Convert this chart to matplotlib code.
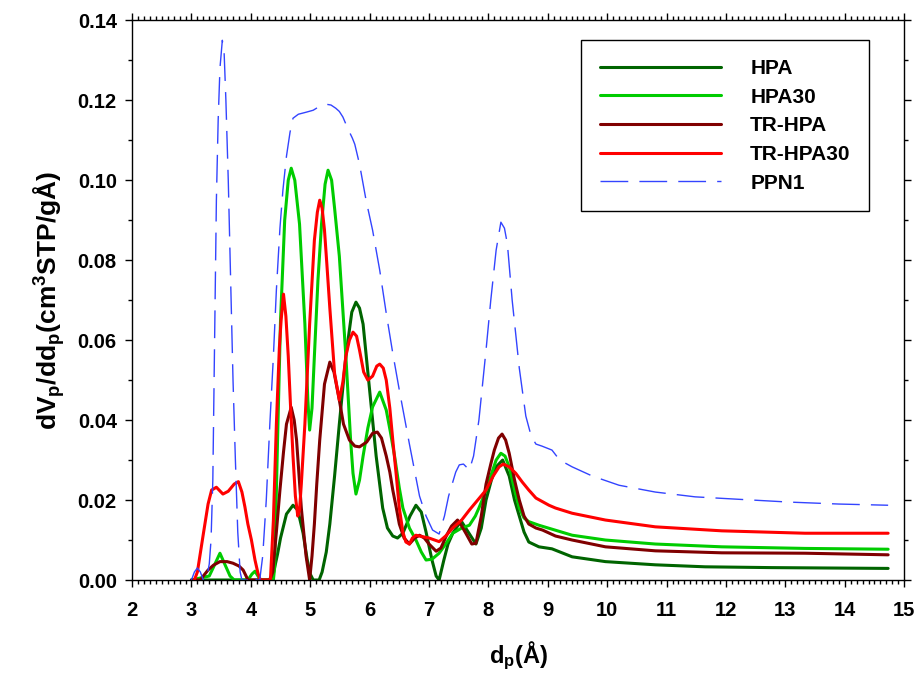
import matplotlib
matplotlib.use('Agg')
import matplotlib.pyplot as plt
from matplotlib.ticker import MultipleLocator, FormatStrFormatter

plt.rcParams['font.family'] = ['Liberation Sans', 'DejaVu Sans']
plt.rcParams['font.weight'] = 'bold'
plt.rcParams['mathtext.fontset'] = 'custom'
plt.rcParams['mathtext.rm'] = 'Liberation Sans:bold'
plt.rcParams['mathtext.bf'] = 'Liberation Sans:bold'
plt.rcParams['mathtext.it'] = 'Liberation Sans:bold'
plt.rcParams['mathtext.default'] = 'bf'

# pore size distribution data
hpa_x = [3.0, 4.3, 4.37, 4.45, 4.5, 4.6, 4.71, 4.79, 4.88, 4.95, 5.0, 5.05, 5.15, 5.2, 5.27,
         5.33, 5.41, 5.49, 5.6, 5.7, 5.77, 5.83, 5.89, 6.0, 6.11, 6.22, 6.3, 6.39, 6.47, 6.56,
         6.68, 6.78, 6.87, 6.95, 7.05, 7.12, 7.17, 7.25, 7.32, 7.4, 7.54, 7.66, 7.79, 7.88,
         7.96, 8.05, 8.13, 8.24, 8.35, 8.44, 8.52, 8.6, 8.68, 8.85, 9.07, 9.41, 9.97, 10.81,
         11.65, 12.77, 14.73]
hpa_y = [0, 0, 0.001, 0.0065, 0.0105, 0.0165, 0.0187, 0.0175, 0.0117, 0.005, 0.0015, 0, 0,
         0.002, 0.007, 0.014, 0.026, 0.039, 0.056, 0.067, 0.0695, 0.068, 0.064, 0.0475, 0.031,
         0.018, 0.013, 0.011, 0.0105, 0.0117, 0.016, 0.0187, 0.017, 0.012, 0.005, 0.001, 0,
         0.005, 0.009, 0.0117, 0.0148, 0.012, 0.009, 0.013, 0.02, 0.025, 0.0283, 0.030, 0.026,
         0.020, 0.016, 0.012, 0.0095, 0.0083, 0.0078, 0.0058, 0.0046, 0.0038, 0.0033, 0.0031,
         0.0029]

hpa30_x = [3.0, 3.3, 3.38, 3.48, 3.56, 3.65, 3.72, 3.95, 4.02, 4.07, 4.12, 4.16, 4.38, 4.4,
           4.45, 4.5, 4.57, 4.63, 4.68, 4.74, 4.82, 4.91, 4.96, 4.99, 5.03, 5.07, 5.13, 5.19,
           5.25, 5.3, 5.36, 5.41, 5.49, 5.6, 5.68, 5.72, 5.77, 5.83, 5.89, 5.97, 6.05, 6.17,
           6.28, 6.35, 6.42, 6.5, 6.56, 6.67, 6.78, 6.87, 6.95, 7.05, 7.17, 7.28, 7.4, 7.55,
           7.68, 7.78, 7.84, 7.95, 8.04, 8.13, 8.21, 8.28, 8.35, 8.45, 8.52, 8.6, 8.68, 8.85,
           9.41, 9.97, 10.81, 11.93, 13.33, 14.73]
hpa30_y = [0, 0.001, 0.0035, 0.0067, 0.004, 0.001, 0, 0, 0.0015, 0.0022, 0.001, 0, 0, 0.003,
           0.035, 0.065, 0.09, 0.1, 0.103, 0.1, 0.089, 0.064, 0.045, 0.0375, 0.043, 0.056, 0.075,
           0.089, 0.099, 0.1025, 0.1, 0.093, 0.081, 0.056, 0.035, 0.0267, 0.0215, 0.025, 0.031,
           0.038, 0.0433, 0.047, 0.0425, 0.037, 0.031, 0.023, 0.018, 0.013, 0.01, 0.007, 0.005,
           0.0052, 0.0067, 0.009, 0.0117, 0.013, 0.0137, 0.016, 0.018, 0.022, 0.026, 0.03,
           0.0317, 0.031, 0.0283, 0.022, 0.018, 0.0155, 0.0146, 0.0137, 0.0112, 0.01, 0.009,
           0.0083, 0.0079, 0.0077]

trhpa_x = [3.0, 3.15, 3.2, 3.28, 3.37, 3.48, 3.6, 3.7, 3.8, 3.87, 3.92, 3.95, 4.32, 4.37, 4.43,
           4.49, 4.55, 4.6, 4.68, 4.73, 4.77, 4.85, 4.93, 4.99, 5.03, 5.07, 5.11, 5.16, 5.24,
           5.33, 5.4, 5.49, 5.56, 5.66, 5.75, 5.83, 5.95, 6.05, 6.13, 6.2, 6.28, 6.34, 6.39,
           6.45, 6.5, 6.58, 6.67, 6.76, 6.84, 6.92, 7.0, 7.12, 7.2, 7.29, 7.38, 7.48, 7.55,
           7.62, 7.72, 7.79, 7.88, 7.96, 8.04, 8.1, 8.17, 8.23, 8.29, 8.35, 8.44, 8.52, 8.6,
           8.68, 8.8, 8.91, 9.13, 9.41, 9.97, 10.81, 11.93, 13.33, 14.73]
trhpa_y = [0, 0, 0.001, 0.0025, 0.0037, 0.0046, 0.0046, 0.0042, 0.0035, 0.0025, 0.001, 0, 0,
           0.002, 0.012, 0.0225, 0.032, 0.039, 0.0432, 0.04, 0.035, 0.018, 0.006, 0, 0.006,
           0.014, 0.024, 0.035, 0.049, 0.0545, 0.052, 0.045, 0.039, 0.035, 0.0335, 0.0333,
           0.0345, 0.0367, 0.037, 0.0355, 0.031, 0.027, 0.0225, 0.018, 0.014, 0.0105, 0.009,
           0.0105, 0.0112, 0.0105, 0.009, 0.0072, 0.008, 0.011, 0.0135, 0.015, 0.0135, 0.0117,
           0.009, 0.0092, 0.016, 0.024, 0.029, 0.0325, 0.0355, 0.0365, 0.035, 0.0317, 0.025,
           0.02, 0.016, 0.014, 0.013, 0.0125, 0.011, 0.01, 0.0083, 0.0073, 0.0068, 0.0067,
           0.0063]

trhpa30_x = [3.05, 3.1, 3.2, 3.28, 3.34, 3.42, 3.53, 3.62, 3.72, 3.79, 3.85, 3.9, 3.95, 4.01,
             4.07, 4.12, 4.16, 4.33, 4.38, 4.43, 4.48, 4.51, 4.55, 4.59, 4.63, 4.67, 4.71, 4.75,
             4.79, 4.82, 4.85, 4.91, 4.99, 5.07, 5.12, 5.16, 5.2, 5.24, 5.28, 5.33, 5.41, 5.49,
             5.55, 5.6, 5.66, 5.72, 5.78, 5.83, 5.9, 5.97, 6.05, 6.12, 6.17, 6.23, 6.28, 6.34,
             6.39, 6.45, 6.5, 6.56, 6.61, 6.67, 6.72, 6.78, 6.84, 7.0, 7.17, 7.28, 7.4, 7.55,
             7.68, 7.82, 7.96, 8.08, 8.18, 8.25, 8.35, 8.46, 8.57, 8.68, 8.8, 8.91, 9.02, 9.13,
             9.41, 9.97, 10.81, 11.93, 13.33, 14.73]
trhpa30_y = [0, 0.002, 0.0115, 0.019, 0.0225, 0.0232, 0.0215, 0.0222, 0.024, 0.0246, 0.022,
             0.0183, 0.014, 0.01, 0.005, 0.0017, 0, 0, 0.015, 0.039, 0.058, 0.065, 0.0715, 0.066,
             0.056, 0.043, 0.031, 0.021, 0.016, 0.0175, 0.024, 0.039, 0.064, 0.085, 0.092, 0.095,
             0.093, 0.0875, 0.079, 0.068, 0.0517, 0.045, 0.0495, 0.056, 0.06, 0.062, 0.061,
             0.0575, 0.052, 0.05, 0.051, 0.0535, 0.054, 0.053, 0.05, 0.043, 0.035, 0.026, 0.018,
             0.012, 0.0095, 0.009, 0.0105, 0.0112, 0.011, 0.0105, 0.0096, 0.011, 0.013, 0.015,
             0.0175, 0.02, 0.0225, 0.026, 0.0283, 0.029, 0.0283, 0.0267, 0.0245, 0.0225, 0.0205,
             0.0196, 0.0187, 0.018, 0.0167, 0.015, 0.0133, 0.0123, 0.0117, 0.0117]

ppn1_x = [3.0, 3.05, 3.1, 3.15, 3.2, 3.25, 3.3, 3.33, 3.36, 3.39, 3.42, 3.45, 3.48, 3.52, 3.55,
          3.58, 3.62, 3.66, 3.7, 3.74, 3.78, 3.82, 3.85, 4.0, 4.05, 4.1, 4.15, 4.2, 4.26, 4.32,
          4.38, 4.43, 4.49, 4.54, 4.6, 4.66, 4.71, 4.8, 4.93, 5.05, 5.16, 5.27, 5.35, 5.43,
          5.49, 5.55, 5.63, 5.71, 5.75, 5.83, 5.94, 6.05, 6.17, 6.28, 6.39, 6.5, 6.67, 6.84,
          6.95, 7.06, 7.17, 7.26, 7.33, 7.39, 7.45, 7.51, 7.58, 7.68, 7.75, 7.84, 7.96, 8.04,
          8.13, 8.21, 8.27, 8.32, 8.4, 8.52, 8.63, 8.72, 8.8, 8.9, 9.07, 9.2, 9.41, 9.75, 10.2,
          10.81, 11.48, 12.2, 13.05, 13.9, 14.73]
ppn1_y = [0, 0.002, 0.003, 0.002, 0, 0, 0.004, 0.01, 0.025, 0.06, 0.095, 0.115, 0.128, 0.135,
          0.132, 0.12, 0.1, 0.075, 0.05, 0.03, 0.012, 0.002, 0, 0, 0.001, 0, 0, 0.006, 0.02,
          0.039, 0.056, 0.0725, 0.088, 0.0975, 0.106, 0.112, 0.1155, 0.1165, 0.117, 0.1175,
          0.1185, 0.119, 0.1188, 0.118, 0.1172, 0.1158, 0.113, 0.1105, 0.109, 0.104, 0.095,
          0.0875, 0.0775, 0.0667, 0.0567, 0.0475, 0.034, 0.021, 0.016, 0.0125, 0.0115, 0.016,
          0.021, 0.024, 0.027, 0.0288, 0.029, 0.0275, 0.031, 0.04, 0.0575, 0.07, 0.0825, 0.0895,
          0.088, 0.084, 0.07, 0.053, 0.041, 0.036, 0.034, 0.0335, 0.0325, 0.03, 0.0283, 0.026,
          0.0237, 0.022, 0.0208, 0.0202, 0.0195, 0.019, 0.0187]

series = [
    ('HPA', hpa_x, hpa_y, '#006400'),
    ('HPA30', hpa30_x, hpa30_y, '#00cc00'),
    ('TR-HPA', trhpa_x, trhpa_y, '#800000'),
    ('TR-HPA30', trhpa30_x, trhpa30_y, '#ff0000'),
]

fig = plt.figure(figsize=(9.17, 6.76), dpi=100)
ax = fig.add_axes([0.144, 0.142, 0.842, 0.828])

for name, xs, ys, col in series:
    ax.plot(xs, ys, color=col, lw=2.2, label=name, solid_capstyle='round')
ax.plot(ppn1_x, ppn1_y, color='#3344ff', lw=1.0, dashes=(20, 8), label='PPN1')

ax.set_xlim(2, 15)
ax.set_ylim(0, 0.14)
ax.xaxis.set_major_locator(MultipleLocator(1))
ax.xaxis.set_minor_locator(MultipleLocator(0.1))
ax.yaxis.set_major_locator(MultipleLocator(0.02))
ax.yaxis.set_minor_locator(MultipleLocator(0.01))
ax.yaxis.set_major_formatter(FormatStrFormatter('%.2f'))
ax.tick_params(which='both', direction='out', top=True, right=True, labelsize=14.5, width=1.0)
ax.tick_params(which='major', length=5, pad=6)
ax.tick_params(axis='x', which='major', pad=10)
ax.tick_params(which='minor', length=3)
for sp in ax.spines.values():
    sp.set_linewidth(1.0)

ax.set_xlabel(r'$d_p(Å)$', fontsize=17, labelpad=14)
ax.set_ylabel(r'$dV_p/dd_p(cm^3STP/gÅ)$', fontsize=19, labelpad=8)

leg = ax.legend(loc='upper right', bbox_to_anchor=(0.955, 0.964), borderaxespad=0,
                fontsize=15, handlelength=5.8, handletextpad=1.4, labelspacing=0.46,
                borderpad=0.9, fancybox=False, framealpha=1, edgecolor='black')
leg.get_frame().set_linewidth(1.0)
for t in leg.get_texts():
    t.set_fontweight('bold')

plt.savefig('out.png', dpi=100)
